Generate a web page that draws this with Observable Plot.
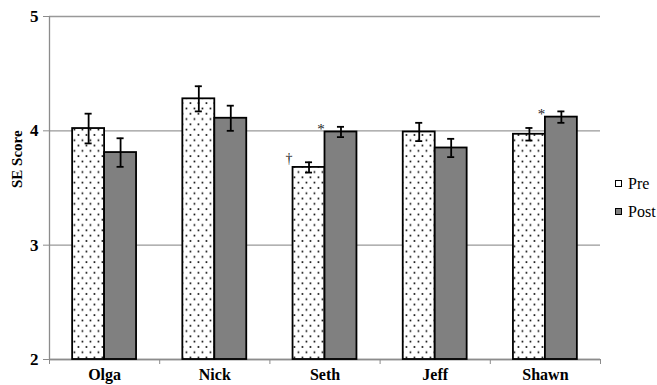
<!DOCTYPE html>
<html><head><meta charset="utf-8">
<script src="https://cdn.jsdelivr.net/npm/d3@7"></script>
<script src="https://cdn.jsdelivr.net/npm/@observablehq/plot@0.6"></script>
<style>
body{margin:0;background:#fff;font-family:"Liberation Serif",Tinos,"Times New Roman",Times,"DejaVu Serif",serif;}
#wrap{display:flex;align-items:flex-start;width:657px;height:385px;overflow:hidden;}
#legend{margin-left:9px;margin-top:170px;font-size:16px;color:#000;}
.item{display:flex;align-items:center;height:27.7px;}
.sw{width:5px;height:5px;border:1.5px solid #000;margin-right:6px;}
svg text{font-family:"Liberation Serif",Tinos,"Times New Roman",Times,"DejaVu Serif",serif;}
</style></head><body>
<div id="wrap"><div id="chart"></div><div id="legend"></div></div>
<script>
const names = ["Olga", "Nick", "Seth", "Jeff", "Shawn"];
const series = ["Pre", "Post"];
const preMean = [4.02, 4.28, 3.68, 3.99, 3.97];
const preErr = [0.13, 0.11, 0.045, 0.08, 0.055];
const postMean = [3.81, 4.11, 3.99, 3.85, 4.12];
const postErr = [0.125, 0.11, 0.045, 0.08, 0.05];
const yTicks = [2, 3, 4, 5];
const notes = [
  {name: "Seth", series: "Pre", symbol: "†"},
  {name: "Seth", series: "Post", symbol: "*"},
  {name: "Shawn", series: "Post", symbol: "*"}
];

const W = 0.29;      // bar width as fraction of a category step
const CAP = 0.032;   // half-width of error caps
const rows = [];
names.forEach((name, i) => {
  rows.push({name, i, series: "Pre", value: preMean[i], err: preErr[i], x1: i - W, x2: i});
  rows.push({name, i, series: "Post", value: postMean[i], err: postErr[i], x1: i, x2: i + W});
});
rows.forEach(d => { d.xc = (d.x1 + d.x2) / 2; d.lo = d.value - d.err; d.hi = d.value + d.err; });
const caps = rows.flatMap(d => [{xc: d.xc, y: d.lo}, {xc: d.xc, y: d.hi}]);
const noteRows = notes.map(n => ({...n, ...rows.find(r => r.name === n.name && r.series === n.series)}));
const bounds = d3.range(names.length + 1).map(k => k - 0.5);
const FONT = '"Liberation Serif",Tinos,"Times New Roman",Times,"DejaVu Serif",serif';

const plot = Plot.plot({
  width: 606, height: 385,
  marginLeft: 49, marginRight: 6, marginTop: 16, marginBottom: 26,
  style: {fontFamily: FONT, color: "#000", background: "#fff"},
  x: {type: "linear", domain: [-0.5, names.length - 0.5], axis: null},
  y: {domain: [2, 5], axis: null},
  marks: [
    Plot.gridY(yTicks, {stroke: "#999", strokeOpacity: 1, strokeWidth: 1.3}),
    Plot.ruleX([-0.5], {stroke: "#8c8c8c", strokeWidth: 1.3}),
    Plot.ruleY([2], {stroke: "#8c8c8c", strokeWidth: 1.3}),
    Plot.axisY({ticks: yTicks, tickFormat: "d", tickSize: 6, tickPadding: 5, stroke: "#8c8c8c", fill: "#000",
      fontWeight: "bold", fontSize: 17, label: null}),
    Plot.text(["SE Score"], {frameAnchor: "left", rotate: -90, dx: -32, fontWeight: "bold", fontSize: 15, fill: "#000"}),
    Plot.axisX({ticks: bounds, tickFormat: () => "", tickSize: 5, stroke: "#8c8c8c", label: null}),
    Plot.axisX({ticks: d3.range(names.length), tickFormat: i => names[i], tickSize: 0, tickPadding: 9,
      fontWeight: "bold", fontSize: 16, fill: "#000", label: null}),
    Plot.rectY(rows.filter(d => d.series === "Pre"), {x1: "x1", x2: "x2", y1: 2, y2: "value",
      fill: "url(#dots)", stroke: "#000", strokeWidth: 1.8}),
    Plot.rectY(rows.filter(d => d.series === "Post"), {x1: "x1", x2: "x2", y1: 2, y2: "value",
      fill: "#808080", stroke: "#000", strokeWidth: 1.8}),
    Plot.ruleX(rows, {x: "xc", y1: "lo", y2: "hi", stroke: "#000", strokeWidth: 1.8}),
    Plot.ruleY(caps, {y: "y", x1: d => d.xc - CAP, x2: d => d.xc + CAP, stroke: "#000", strokeWidth: 1.8}),
    Plot.text(noteRows.filter(d => d.symbol === "†"), {x: "x1", y: "value", text: "symbol", dx: -4, dy: -9, fontSize: 14, fill: "#222"}),
    Plot.text(noteRows.filter(d => d.symbol === "*"), {x: "x1", y: "value", text: "symbol", dx: -4, dy: -3, fontSize: 15, fill: "#222"})
  ]
});

const defs = d3.select(plot).insert("defs", ":first-child");
const pat = defs.append("pattern").attr("id", "dots").attr("patternUnits", "userSpaceOnUse")
  .attr("width", 8).attr("height", 10.6);
pat.append("rect").attr("width", 8).attr("height", 10.6).attr("fill", "#fff");
pat.append("rect").attr("x", 1.6).attr("y", 1.6).attr("width", 1.7).attr("height", 1.7).attr("fill", "#111");
pat.append("rect").attr("x", 5.6).attr("y", 6.9).attr("width", 1.7).attr("height", 1.7).attr("fill", "#111");

document.getElementById("chart").append(plot);

const legend = d3.select("#legend");
series.forEach(s => {
  const it = legend.append("div").attr("class", "item");
  it.append("div").attr("class", "sw").style("background", s === "Pre" ? "#fff" : "#808080");
  it.append("span").text(s);
});
</script>
</body></html>
